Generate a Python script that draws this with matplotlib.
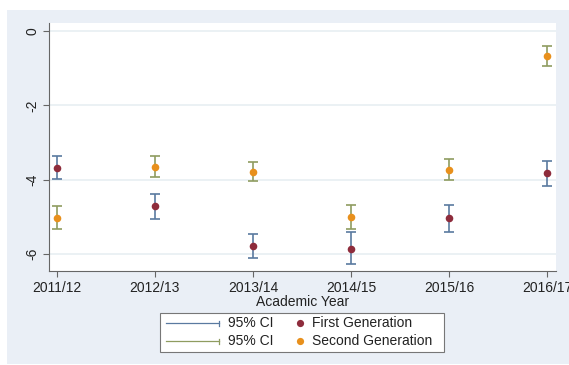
import numpy as np
import matplotlib.pyplot as plt
from matplotlib.patches import Rectangle
from matplotlib.lines import Line2D

plt.rcParams['font.family'] = ['Liberation Sans', 'DejaVu Sans']

# Academic years on the x axis
years = ["2011/12", "2012/13", "2013/14", "2014/15", "2015/16", "2016/17"]

# First generation: point estimate and 95% CI bounds
first_est = [-3.68, -4.72, -5.78, -5.86, -5.04, -3.82]
first_lo = [-3.98, -5.06, -6.12, -6.26, -5.40, -4.16]
first_hi = [-3.35, -4.39, -5.45, -5.42, -4.67, -3.49]

# Second generation: point estimate and 95% CI bounds
second_est = [-5.02, -3.67, -3.78, -5.00, -3.73, -0.66]
second_lo = [-5.32, -3.94, -4.03, -5.34, -4.00, -0.93]
second_hi = [-4.72, -3.37, -3.52, -4.67, -3.45, -0.40]

legend_labels = ["95% CI", "95% CI", "First Generation", "Second Generation"]

bg = "#eaeff6"
c_first = "#8e2c3c"
c_second = "#e8901c"
c_ci1 = "#5a7aa0"
c_ci2 = "#8f9c60"
txt = "#222222"

W, H = 569, 365
fig = plt.figure(figsize=(W / 100, H / 100), dpi=100)
fig.patch.set_facecolor("white")


# pixel position (from top-left) -> figure fraction
def fx(px):
    return px / W


def fy(py):
    return 1 - py / H


fig.patches.append(Rectangle((fx(7), fy(364)), fx(W - 7), (364 - 10) / H,
                             transform=fig.transFigure, facecolor=bg,
                             edgecolor="none", zorder=-10))

ax = fig.add_axes([fx(49), fy(271), fx(556 - 49), (271 - 23) / H])
ax.set_facecolor("white")

x = np.arange(len(years))
est1 = np.array(first_est)
est2 = np.array(second_est)
err1 = [est1 - np.array(first_lo), np.array(first_hi) - est1]
err2 = [est2 - np.array(second_lo), np.array(second_hi) - est2]

for y in [0, -2, -4, -6]:
    ax.axhline(y, color="#e9f0f3", lw=1.3, zorder=0)

ax.errorbar(x, est1, yerr=err1, fmt="none", ecolor=c_ci1, elinewidth=1.2,
            capsize=3.5, capthick=1.2, zorder=2)
ax.errorbar(x, est2, yerr=err2, fmt="none", ecolor=c_ci2, elinewidth=1.2,
            capsize=3.5, capthick=1.2, zorder=2)
ax.scatter(x, est1, s=30, color=c_first, zorder=3, linewidths=0)
ax.scatter(x, est2, s=30, color=c_second, zorder=3, linewidths=0)

ax.set_xlim(-0.08, 5.09)
ax.set_ylim(-6.46, 0.22)
ax.set_xticks(x)
ax.set_xticklabels(years, fontsize=10, color=txt)
ax.set_yticks([0, -2, -4, -6])
ax.set_yticklabels(["0", "-2", "-4", "-6"], rotation=90, va="center",
                   fontsize=10, color=txt)
ax.tick_params(axis="both", length=4, color="#666666", width=0.8, pad=3)
for side in ["top", "right"]:
    ax.spines[side].set_visible(False)
for side in ["left", "bottom"]:
    ax.spines[side].set_color("#666666")
    ax.spines[side].set_linewidth(0.8)
ax.set_xlabel("Academic Year", fontsize=10, color=txt, labelpad=0)

# legend drawn by hand: CI keys on the left, point keys on the right
fig.patches.append(Rectangle((fx(160), fy(352)), fx(444 - 160), (352 - 313) / H,
                             transform=fig.transFigure, facecolor="white",
                             edgecolor="#777777", lw=0.8))
rows = [323, 341]
for row, c in zip(rows, [c_ci1, c_ci2]):
    fig.add_artist(Line2D([fx(166), fx(219)], [fy(row), fy(row)], color=c,
                          lw=0.9, transform=fig.transFigure))
    fig.add_artist(Line2D([fx(219), fx(219)], [fy(row - 2.5), fy(row + 2.5)],
                          color=c, lw=0.9, transform=fig.transFigure))
for row, c in zip(rows, [c_first, c_second]):
    fig.add_artist(Line2D([fx(300)], [fy(row)], color=c, lw=0, marker="o",
                          markersize=5.2, markeredgewidth=0,
                          transform=fig.transFigure))
for i, row in enumerate(rows):
    fig.text(fx(228), fy(row), legend_labels[i], fontsize=10, color=txt,
             va="center", ha="left")
    fig.text(fx(312), fy(row), legend_labels[i + 2], fontsize=10, color=txt,
             va="center", ha="left")

fig.savefig("out.png", dpi=100)
